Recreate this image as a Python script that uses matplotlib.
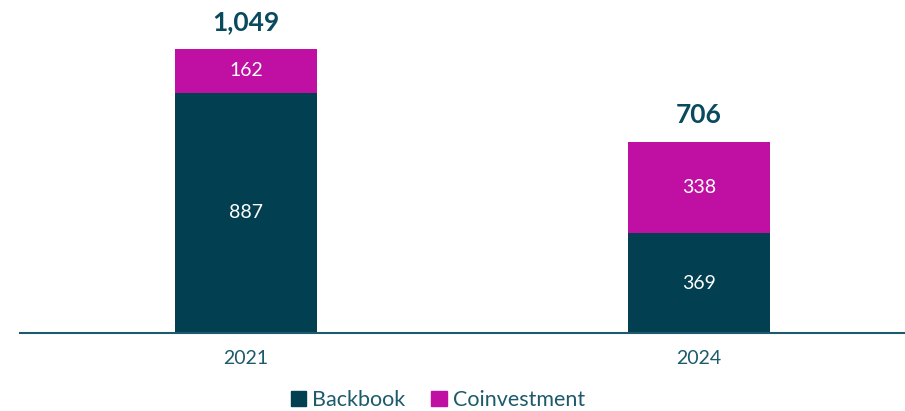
import matplotlib
matplotlib.use("Agg")
import matplotlib.pyplot as plt
from matplotlib.patches import Patch

years = ["2021", "2024"]
backbook = [887, 369]
coinvestment = [162, 338]
totals = ["1,049", "706"]
total_values = [1049, 706]

c_back = "#023F50"
c_coin = "#C00FA3"
c_text = "#1D5A6C"
c_total = "#0A4A5E"

plt.rcParams['font.family'] = ['Lato', 'DejaVu Sans']
fig = plt.figure(figsize=(9.05, 4.11), dpi=100)
ax = fig.add_axes([20/905, 78/411, 885/905, 333/411])
x = list(range(len(years)))
w = 0.3135
b1 = ax.bar(x, backbook, width=w, color=c_back)
b2 = ax.bar(x, coinvestment, width=w, bottom=backbook, color=c_coin)
for i in x:
    ax.text(i, backbook[i]/2, str(backbook[i]), ha='center', va='center', color='white', fontsize=14)
    ax.text(i, backbook[i] + coinvestment[i]/2, str(coinvestment[i]), ha='center', va='center', color='white', fontsize=14)
    ax.text(i, total_values[i] + 55, totals[i], ha='center', va='bottom', color=c_total, fontsize=19, fontweight='bold')
ax.set_xlim(-0.499, 1.4545)
ax.set_ylim(0, 1230)
ax.set_yticks([])
ax.set_xticks(x)
ax.set_xticklabels(years, fontsize=14, color=c_text)
ax.tick_params(axis='x', length=0, pad=12)
for s in ['top', 'right', 'left']:
    ax.spines[s].set_visible(False)
ax.spines['bottom'].set_color('#1D5A6C')
ax.spines['bottom'].set_linewidth(1.5)
handles = [Patch(color=c_back, label='Backbook'), Patch(color=c_coin, label='Coinvestment')]
leg = fig.legend(handles=handles, loc='center', bbox_to_anchor=(438/905, 1 - 400/411), ncol=2, frameon=False,
                 prop={'size': 15.5}, handlelength=0.7, handleheight=0.7, handletextpad=0.3, columnspacing=1.2)
for t in leg.get_texts():
    t.set_color(c_text)
fig.savefig("out.png", dpi=100)
